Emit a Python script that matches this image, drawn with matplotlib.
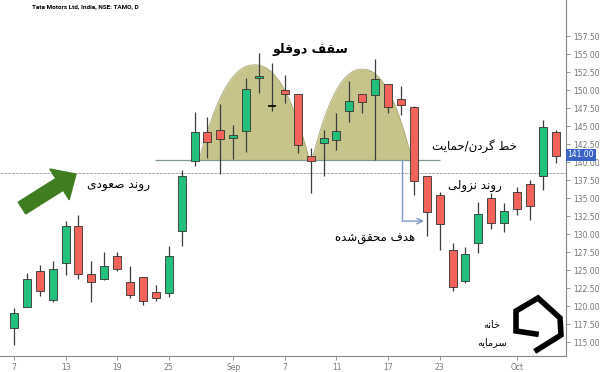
import numpy as np
import matplotlib
matplotlib.use("Agg")
import matplotlib.pyplot as plt

plt.rcParams['font.family'] = ['DejaVu Sans']

# daily candles, Tata Motors
opens = [116.9, 119.8, 124.9, 120.9, 126.0, 131.1, 124.4, 123.8, 126.9, 123.4,
         124.1, 121.9, 121.8, 130.4, 140.1, 144.1, 144.4, 143.4, 144.3, 151.6,
         147.8, 150.0, 149.4, 140.9, 142.7, 143.1, 147.1, 149.4, 149.3, 150.8,
         148.7, 147.7, 138.0, 135.4, 127.8, 123.5, 128.8, 135.0, 131.5, 135.8,
         136.9, 138.0, 144.2]
highs = [119.7, 124.6, 125.7, 126.3, 131.8, 132.6, 126.3, 127.5, 127.5, 125.6,
         124.1, 122.9, 128.3, 138.9, 146.9, 146.2, 148.1, 145.2, 151.6, 155.2,
         153.7, 152.1, 149.5, 141.9, 144.5, 146.8, 151.2, 149.5, 154.3, 150.8,
         150.6, 147.8, 138.1, 135.9, 128.8, 128.2, 134.4, 135.7, 134.3, 136.5,
         137.5, 145.8, 144.4]
lows = [114.6, 119.8, 121.4, 120.5, 124.3, 123.7, 120.5, 123.6, 124.8, 121.1,
        120.1, 120.7, 121.2, 128.4, 139.4, 140.5, 138.3, 140.4, 141.4, 149.6,
        147.1, 148.2, 141.2, 135.7, 138.1, 141.7, 145.6, 146.8, 140.3, 146.8,
        146.5, 135.4, 129.7, 127.8, 122.1, 123.2, 127.4, 130.7, 130.3, 132.6,
        132.0, 136.1, 139.8]
closes = [119.0, 123.7, 122.1, 125.2, 131.1, 124.5, 123.4, 125.5, 125.1, 121.6,
          120.7, 121.1, 126.9, 138.0, 144.2, 142.8, 143.2, 143.7, 150.2, 151.9,
          147.8, 149.4, 142.3, 140.1, 143.3, 144.3, 148.5, 148.4, 151.5, 147.6,
          147.9, 137.4, 133.0, 131.4, 122.7, 127.2, 132.8, 131.6, 133.2, 133.5,
          133.9, 144.8, 140.9]

tick_pos = [0, 4, 8, 12, 17, 21, 25, 29, 33, 39]
tick_labels = ['7', '13', '19', '25', 'Sep', '7', '11', '17', '23', 'Oct']

neckline = 140.28
price_line = 138.47
last_price = 141.00
target = 131.8

# dome (left, peak, right, peak value)
domes = [(14.34, 18.65, 22.9, 153.5), (23.1, 27.0, 30.85, 152.9)]

# --- tiny persian shaper (matplotlib has no arabic shaping) ---
FORMS = {
    'ا': '\uFE8D\uFE8E\uFE8D\uFE8E', 'ت': '\uFE95\uFE96\uFE97\uFE98',
    'ح': '\uFEA1\uFEA2\uFEA3\uFEA4', 'خ': '\uFEA5\uFEA6\uFEA7\uFEA8',
    'د': '\uFEA9\uFEAA\uFEA9\uFEAA', 'ر': '\uFEAD\uFEAE\uFEAD\uFEAE',
    'ز': '\uFEAF\uFEB0\uFEAF\uFEB0', 'س': '\uFEB1\uFEB2\uFEB3\uFEB4',
    'ش': '\uFEB5\uFEB6\uFEB7\uFEB8', 'ص': '\uFEB9\uFEBA\uFEBB\uFEBC',
    'ط': '\uFEC1\uFEC2\uFEC3\uFEC4', 'ع': '\uFEC9\uFECA\uFECB\uFECC',
    'ف': '\uFED1\uFED2\uFED3\uFED4', 'ق': '\uFED5\uFED6\uFED7\uFED8',
    'ل': '\uFEDD\uFEDE\uFEDF\uFEE0', 'م': '\uFEE1\uFEE2\uFEE3\uFEE4',
    'ن': '\uFEE5\uFEE6\uFEE7\uFEE8', 'ه': '\uFEE9\uFEEA\uFEEB\uFEEC',
    'و': '\uFEED\uFEEE\uFEED\uFEEE', 'ی': '\uFBFC\uFBFD\uFBFE\uFBFF',
    'گ': '\uFB92\uFB93\uFB94\uFB95',
}
RIGHT_ONLY = set('ادرزو')


def fa(text):
    out = []
    for i, c in enumerate(text):
        if c not in FORMS:
            if c != '\u200c':
                out.append(c)
            continue
        prev = text[i - 1] if i > 0 else None
        nxt = text[i + 1] if i + 1 < len(text) else None
        jp = prev in FORMS and prev not in RIGHT_ONLY
        jn = nxt in FORMS and c not in RIGHT_ONLY
        f = FORMS[c]
        out.append(f[3] if (jp and jn) else f[1] if jp else f[2] if jn else f[0])
    return ''.join(reversed(out))


fig = plt.figure(figsize=(6, 3.72), dpi=100)
ax = fig.add_axes([0, 0.043, 0.9433, 0.957])

x = np.arange(len(opens))
o = np.array(opens); c = np.array(closes)
green, red = '#22c07a', '#f2645a'

# domes
for l, p, r, top in domes:
    u = np.linspace(-1, 1, 200)
    xs = np.where(u < 0, p + u * (p - l), p + u * (r - p))
    ys = neckline + (top - neckline) * (1 - np.abs(u) ** 2.2)
    ax.fill_between(xs, neckline, ys, color='#c6c48a', zorder=1, lw=0)
    ax.plot(xs, ys, color='#aaa874', lw=0.6, zorder=1)

ax.vlines(x, lows, highs, color='#3c3c3c', lw=0.9, zorder=2)
for i in range(len(x)):
    if o[i] == c[i]:
        ax.hlines(o[i], i - 0.31, i + 0.31, color='black', lw=1.2, zorder=3)
        continue
    col = green if c[i] > o[i] else red
    ax.bar(i, abs(c[i] - o[i]), bottom=min(o[i], c[i]), width=0.62,
           color=col, edgecolor='#333333', lw=0.6, zorder=3)

ax.axhline(price_line, color='#aaaaaa', lw=0.7, ls=(0, (3, 1)), zorder=0)
ax.hlines(neckline, 10.9, 33.0, color='#7f9a8c', lw=0.9, zorder=1.5)

# target arrow
ax.plot([30.08, 30.08], [neckline, target], color='#7d97c8', lw=1.0, zorder=4)
ax.annotate('', xy=(32.0, target), xytext=(30.0, target),
            arrowprops=dict(arrowstyle='->', color='#7d97c8', lw=1.0), zorder=4)

ax.set_xlim(-1.085, 42.79)
ax.set_ylim(113.06, 162.5)
for s in ['top', 'left']:
    ax.spines[s].set_visible(False)
for s in ['bottom', 'right']:
    ax.spines[s].set_color('#888888')
    ax.spines[s].set_linewidth(0.8)
ax.yaxis.tick_right()
ax.set_yticks(np.arange(115, 158, 2.5))
ax.set_yticklabels(['%.2f' % v for v in np.arange(115, 158, 2.5)])
ax.set_xticks(tick_pos)
ax.set_xticklabels(tick_labels)
ax.tick_params(labelsize=5.5, colors='#888888', labelcolor='#777777',
               length=3, width=0.6, pad=2)

ax.text(1.003, last_price, '141.00', transform=ax.get_yaxis_transform(),
        fontsize=5.5, color='white', va='center', ha='left',
        bbox=dict(boxstyle='square,pad=0.2', fc='#3a63c8', ec='none'), zorder=6)

fig.text(32 / 600, 1 - 7 / 372, 'Tata Motors Ltd, India, NSE: TAMO, D',
         fontsize=4.6, fontweight='bold', va='center', family='Roboto')

# persian labels
ax.text(23.0, 155.6, fa('سقف دوقلو'), fontsize=9, fontweight='bold',
        ha='center', va='center')
ax.text(35.7, 142.2, fa('خط گردن/حمایت'), fontsize=8.5, ha='center', va='center')
ax.text(35.7, 136.7, fa('روند نزولی'), fontsize=8.5, ha='center', va='center')
ax.text(8.1, 136.7, fa('روند صعودی'), fontsize=8.8, ha='center', va='center')
ax.text(28.0, 129.4, fa('هدف محقق\u200cشده'), fontsize=8.5, ha='center', va='center')

# green up arrow
ax.annotate('', xy=(76, 372 - 174), xytext=(22, 372 - 208),
            xycoords='figure pixels', textcoords='figure pixels',
            arrowprops=dict(arrowstyle='simple,head_length=1.4,head_width=2.6,tail_width=1.0',
                            color='#3f7d20', mutation_scale=10, shrinkA=0, shrinkB=0))

# logo
lx = np.array([536, 516, 516, 538, 560, 561, 537]) / 600
ly = 1 - np.array([334, 331, 311, 298, 318, 335, 350]) / 372
fig.add_artist(plt.Line2D(lx, ly, color='black', lw=4, solid_joinstyle='miter'))
fig.text(492 / 600, 1 - 325 / 372, fa('خانه'), fontsize=7, ha='center', va='center')
fig.text(492 / 600, 1 - 342 / 372, fa('سرمایه'), fontsize=7, ha='center', va='center')

fig.savefig('out.png', dpi=100)
